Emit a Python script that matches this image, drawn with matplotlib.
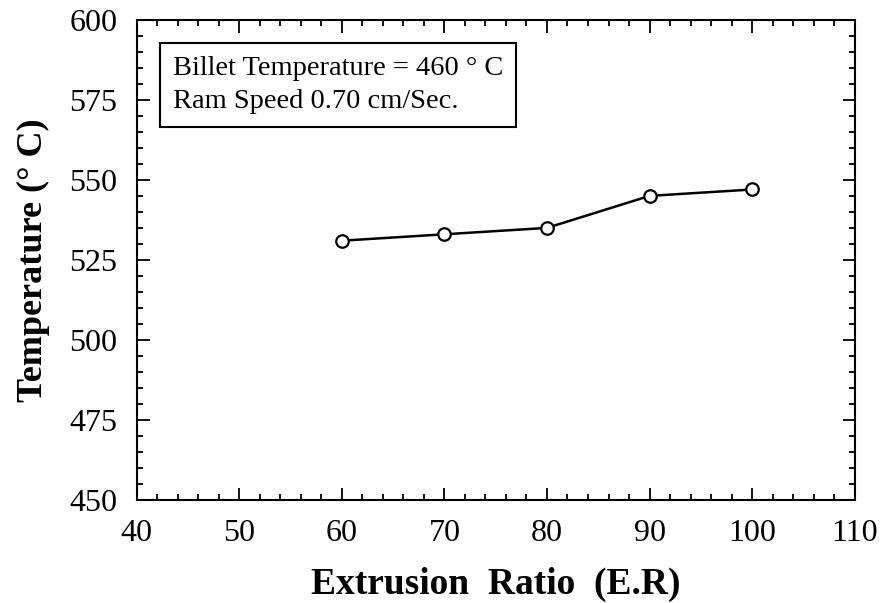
import matplotlib
matplotlib.use("Agg")
import matplotlib.pyplot as plt
from matplotlib.ticker import MultipleLocator

plt.rcParams['font.family'] = ['Liberation Serif', 'DejaVu Serif']

# data
extrusion_ratio = [60, 70, 80, 90, 100]
temperature = [531, 533, 535, 545, 547]

box_lines = ["Billet Temperature = 460 \u00b0 C", "Ram Speed 0.70 cm/Sec."]

fig = plt.figure(figsize=(8.82, 6.03), dpi=100)
ax = fig.add_axes([0.155, 0.171, 0.814, 0.796])

ax.plot(extrusion_ratio, temperature, color='black', linewidth=1.8,
        marker='o', markersize=9, markerfacecolor='white',
        markeredgecolor='black', markeredgewidth=1.6)

ax.set_xlim(40, 110)
ax.set_ylim(450, 600)
ax.xaxis.set_major_locator(MultipleLocator(10))
ax.xaxis.set_minor_locator(MultipleLocator(2))
ax.yaxis.set_major_locator(MultipleLocator(25))
ax.yaxis.set_minor_locator(MultipleLocator(5))
ax.tick_params(which='both', direction='in', top=True, right=True, width=1.3)
ax.tick_params(which='major', length=9, labelsize=23, pad=14)
ax.tick_params(which='minor', length=4.5)
for s in ax.spines.values():
    s.set_linewidth(1.5)

ax.set_xlabel("Extrusion  Ratio  (E.R)", fontsize=27, fontweight='bold', labelpad=13)
ax.set_ylabel("Temperature (\u00b0 C)", fontsize=26, fontweight='bold', labelpad=14)

ax.text(0.05, 0.925, "\n".join(box_lines), transform=ax.transAxes,
        fontsize=20.5, va='top', ha='left', linespacing=1.45,
        bbox=dict(boxstyle='square,pad=0.45', facecolor='white',
                  edgecolor='black', linewidth=1.5))

fig.savefig("out.png", dpi=100)
